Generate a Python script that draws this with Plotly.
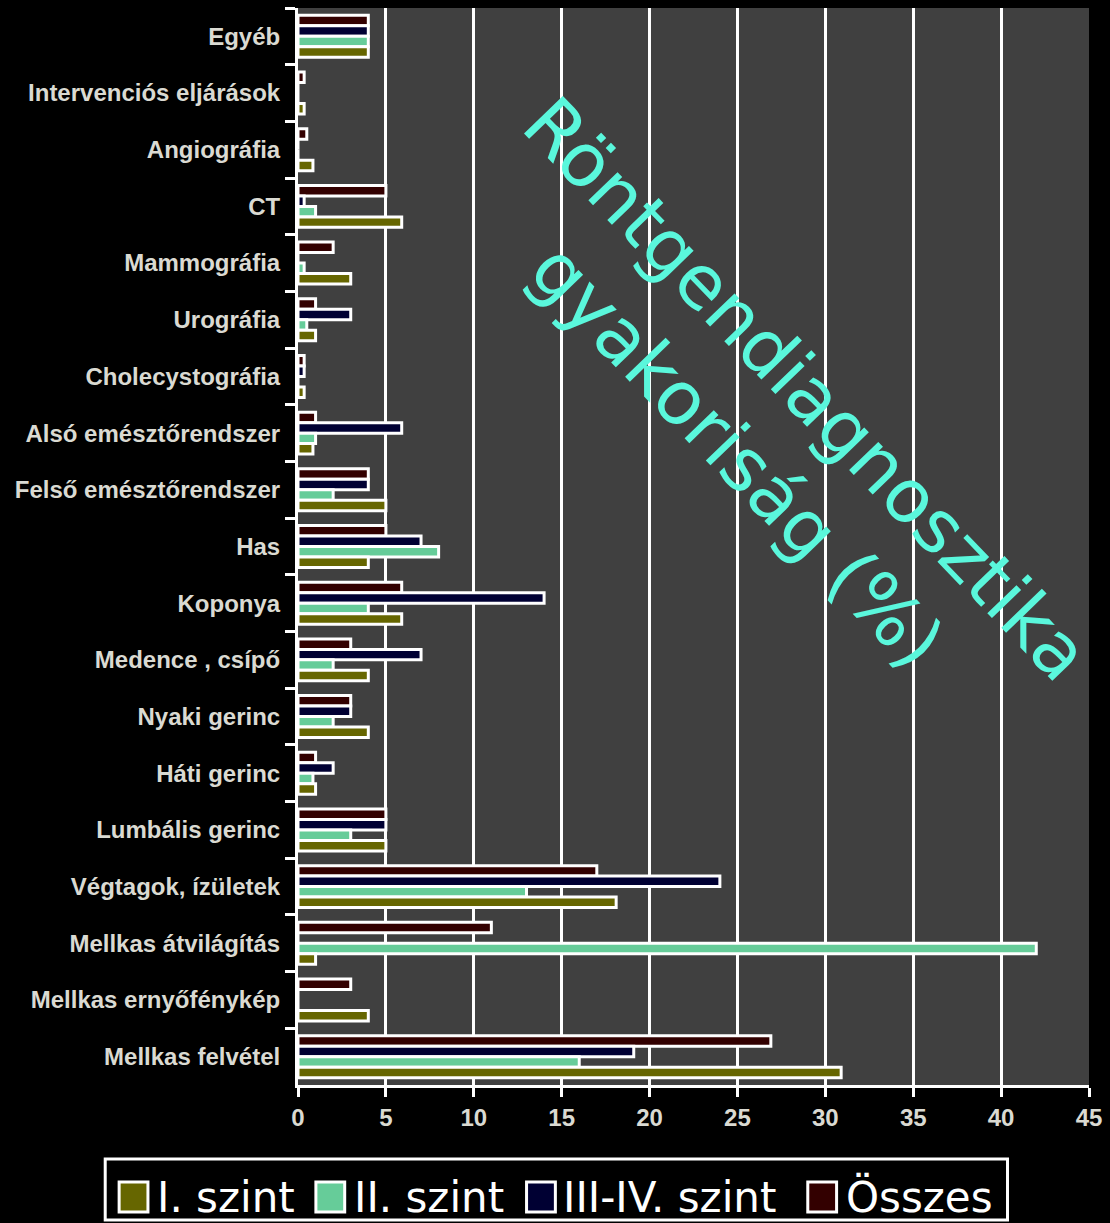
import plotly.graph_objects as go

categories = [
    "Egyéb", "Intervenciós eljárások", "Angiográfia", "CT", "Mammográfia",
    "Urográfia", "Cholecystográfia", "Alsó emésztőrendszer", "Felső emésztőrendszer",
    "Has", "Koponya", "Medence , csípő", "Nyaki gerinc", "Háti gerinc",
    "Lumbális gerinc", "Végtagok, ízületek", "Mellkas átvilágítás",
    "Mellkas ernyőfénykép", "Mellkas felvétel",
]
szint_1 = [4, 0.35, 0.85, 5.9, 3, 1, 0.35, 0.85, 5, 4, 5.9, 4, 4, 1, 5, 18.1, 1, 4, 30.9]
szint_2 = [4, 0, 0, 1, 0.35, 0.5, 0, 1, 2, 8, 4, 2, 2, 0.85, 3, 13, 42, 0, 16]
szint_3_4 = [4, 0, 0, 0.35, 0, 3, 0.35, 5.9, 4, 7, 14, 7, 3, 2, 5, 24, 0, 0, 19.1]
osszes = [4, 0.35, 0.5, 5, 2, 1, 0.35, 1, 4, 5, 5.9, 3, 3, 1, 5, 17, 11, 3, 26.9]

series_names = ["I. szint", "II. szint", "III-IV. szint", "Összes"]
series_colors = ["#666600", "#66CC99", "#000033", "#330000"]
x_ticks = [0, 5, 10, 15, 20, 25, 30, 35, 40, 45]

W, H = 1110, 1223
L, R, T, B = 298, 16, 8, 138
PW, PH = W - L - R, H - T - B


def px(x):
    return (x - L) / PW


def py(y):
    return (H - B - y) / PH


fig = go.Figure()
# top-to-bottom within each group: Összes, III-IV, II, I (axis reversed)
for name, vals, col in [
    (series_names[3], osszes, series_colors[3]),
    (series_names[2], szint_3_4, series_colors[2]),
    (series_names[1], szint_2, series_colors[1]),
    (series_names[0], szint_1, series_colors[0]),
]:
    fig.add_trace(go.Bar(
        y=categories, x=vals, name=name, orientation="h",
        marker=dict(color=col, line=dict(color="white", width=3)),
        showlegend=False,
    ))

tickfont = dict(family="Liberation Sans", size=24, color="#DADAD2", weight="bold")

fig.update_layout(
    width=W, height=H,
    margin=dict(l=L, r=R, t=T, b=B, pad=0),
    paper_bgcolor="black",
    plot_bgcolor="#404040",
    barmode="group",
    bargap=0.26,
    bargroupgap=0,
    xaxis=dict(
        range=[0, 45], tickvals=x_ticks, ticktext=[str(v) for v in x_ticks],
        showgrid=True, gridcolor="white", gridwidth=3,
        showline=True, linecolor="white", linewidth=3,
        ticks="outside", ticklen=9, tickwidth=3, tickcolor="white",
        tickfont=tickfont, zeroline=False, fixedrange=True,
    ),
    yaxis=dict(
        categoryorder="array", categoryarray=categories,
        autorange="reversed",
        showgrid=False,
        showline=True, linecolor="white", linewidth=3,
        ticks="outside", ticklen=10, tickwidth=3, tickcolor="white",
        tickson="boundaries", ticklabelstandoff=10,
        tickfont=tickfont, zeroline=False, fixedrange=True,
    ),
)

# Big rotated title
fig.add_annotation(
    x=px(775), y=py(422), xref="paper", yref="paper",
    text="Röntgendiagnosztika<br>gyakoriság (%)",
    showarrow=False, textangle=46,
    xanchor="center", yanchor="middle", align="center",
    font=dict(family="DejaVu Sans", size=74, color="#5AF7DC"),
)

# Legend (drawn manually to match large symbols)
fig.add_shape(type="rect", xref="paper", yref="paper",
              x0=px(104), x1=px(1012), y0=py(1159), y1=py(1220),
              line=dict(color="white", width=3), fillcolor="black", layer="above")
sq_x = [118, 316, 528, 811]
txt_x = [154, 352, 563, 847]
for i in range(4):
    fig.add_shape(type="rect", xref="paper", yref="paper",
                  x0=px(sq_x[i]), x1=px(sq_x[i] + 29), y0=py(1182), y1=py(1212),
                  line=dict(color="white", width=3), fillcolor=series_colors[i], layer="above")
    fig.add_annotation(x=px(txt_x[i]), y=py(1197), xref="paper", yref="paper",
                       text=series_names[i], showarrow=False,
                       xanchor="left", yanchor="middle",
                       font=dict(family="DejaVu Sans", size=42, color="white"))

fig.write_html(
    "out.html",
    config={"displayModeBar": False},
    post_script="document.body.style.margin='0';document.body.style.overflow='hidden';",
)
